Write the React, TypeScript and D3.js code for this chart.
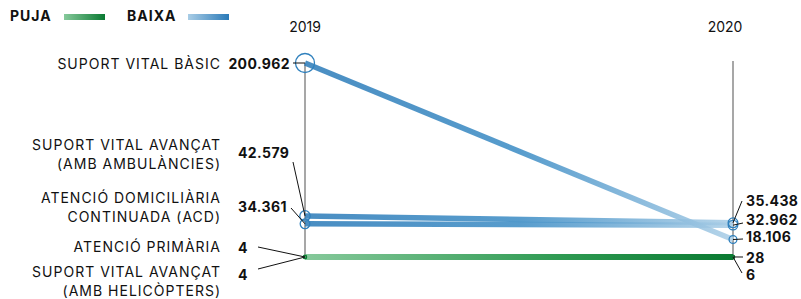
import React from 'react';
import * as d3 from 'd3';

// Dades
const years = ['2019', '2020'];
const categoryLines = [
  ['SUPORT VITAL BÀSIC'],
  ['SUPORT VITAL AVANÇAT', '(AMB AMBULÀNCIES)'],
  ['ATENCIÓ DOMICILIÀRIA', 'CONTINUADA (ACD)'],
  ['ATENCIÓ PRIMÀRIA'],
  ['SUPORT VITAL AVANÇAT', '(AMB HELICÒPTERS)'],
];
const values2019 = [200962, 42579, 34361, 4, 4];
const values2020 = [18106, 35438, 32962, 28, 6];
const legendItems = ['PUJA', 'BAIXA'];

// Posició de les etiquetes (y de la línia base), separades dels punts
const leftNameBaseline = [69, 150, 203, 252, 277];
const leftValueBaseline = [69, 158, 212, 253, 280];
const leftValueAnchor = [[293, 63], [293, 162], [291, 208], [258, 247], [258, 269]];
const rightValueBaseline = [242, 206, 225, 263, 280];
const rightValueAnchor = [[743, 239], [742, 201], [743, 223], [743, 257], [742, 273]];

const W = 801;
const H = 299;
const font = 'Inter, "Noto Sans", sans-serif';

const fmt = (v: number) => d3.format(',')(v).replace(/,/g, '.');

export default function App() {
  const x = d3.scalePoint<string>().domain(years).range([305, 733]);
  const maxV = d3.max([...values2019, ...values2020]) as number;
  const y = d3.scaleLinear().domain([0, maxV]).range([257, 63]);
  const r = d3.scaleSqrt().domain([0, maxV]).range([1.5, 9.5]);

  const x0 = x('2019') as number;
  const x1 = x('2020') as number;

  const blueDark = '#2a7ab8';
  const blueLight = '#a9cde6';
  const greenDark = '#0a7a32';
  const greenLight = '#86c99b';

  const rows = values2019.map((v, i) => ({
    v0: v,
    v1: values2020[i],
    up: values2020[i] > v,
    i,
  }));

  // primer les que baixen, després les que pugen
  const order = [...rows].sort((a, b) => b.v0 - a.v0);

  return (
    <svg
      width={W}
      height={H}
      style={{ position: 'absolute', left: 0, top: 0, background: '#fff' }}
      fontFamily={font}
    >
      <defs>
        <linearGradient id="gBaixa" gradientUnits="userSpaceOnUse" x1={x0} x2={x1} y1={0} y2={0}>
          <stop offset="0" stopColor={blueDark} />
          <stop offset="0.5" stopColor="#3a8bc4" />
          <stop offset="1" stopColor={blueLight} />
        </linearGradient>
        <linearGradient id="gPuja" gradientUnits="userSpaceOnUse" x1={x0} x2={x1} y1={0} y2={0}>
          <stop offset="0" stopColor={greenLight} />
          <stop offset="0.6" stopColor="#2e9a52" />
          <stop offset="1" stopColor={greenDark} />
        </linearGradient>
        <linearGradient id="lPuja" x1="0" x2="1" y1="0" y2="0">
          <stop offset="0" stopColor={greenLight} />
          <stop offset="1" stopColor={greenDark} />
        </linearGradient>
        <linearGradient id="lBaixa" x1="0" x2="1" y1="0" y2="0">
          <stop offset="0" stopColor={blueLight} />
          <stop offset="1" stopColor={blueDark} />
        </linearGradient>
      </defs>

      {/* Llegenda */}
      {legendItems.map((name, i) => (
        <g key={name} transform={`translate(${10 + i * 117},0)`}>
          <text x={0} y={21} fontSize={14} fontWeight={700} fill="#111" letterSpacing={1}>
            {name}
          </text>
          <rect
            x={i === 0 ? 54 : 61}
            y={14}
            width={41}
            height={6}
            fill={i === 0 ? 'url(#lPuja)' : 'url(#lBaixa)'}
          />
        </g>
      ))}

      {/* Anys i eixos */}
      {years.map((yr, i) => (
        <g key={yr}>
          <text
            x={i === 0 ? x0 : x1 - 8}
            y={32}
            fontSize={14}
            textAnchor="middle"
            fill="#111"
          >
            {yr}
          </text>
          <line
            x1={x(yr)}
            x2={x(yr)}
            y1={y(maxV) - (i === 0 ? 0 : 2)}
            y2={y(0) + (i === 0 ? 1 : 3)}
            stroke="#8a8a8a"
            strokeWidth={1.5}
          />
        </g>
      ))}

      {/* Línies */}
      {order.map((d) => (
        <line
          key={'l' + d.i}
          x1={x0}
          x2={x1}
          y1={y(d.v0)}
          y2={y(d.v1)}
          stroke={d.up ? 'url(#gPuja)' : 'url(#gBaixa)'}
          strokeWidth={d.up ? 6 : 5.5}
          strokeOpacity={d.up ? 1 : 0.85}
        />
      ))}

      {/* Cercles */}
      {rows.map((d) => (
        <g key={'c' + d.i}>
          <circle
            cx={x0}
            cy={y(d.v0)}
            r={r(d.v0)}
            fill="none"
            stroke={d.up ? greenDark : '#2f80bd'}
            strokeWidth={1.3}
          />
          <circle
            cx={x1}
            cy={y(d.v1)}
            r={r(d.v1)}
            fill="none"
            stroke={d.up ? greenDark : '#2f80bd'}
            strokeWidth={1.3}
          />
        </g>
      ))}

      {/* Etiquetes esquerra */}
      {categoryLines.map((lines, i) => (
        <g key={'n' + i}>
          <text
            x={221}
            y={leftNameBaseline[i]}
            fontSize={14}
            textAnchor="end"
            fill="#111"
            letterSpacing={1}
          >
            {lines.map((t, j) => (
              <tspan key={j} x={221} dy={j === 0 ? 0 : 19}>
                {t}
              </tspan>
            ))}
          </text>
          <text
            x={i === 0 ? 290 : 238}
            y={leftValueBaseline[i]}
            fontSize={14}
            fontWeight={700}
            textAnchor={i === 0 ? 'end' : 'start'}
            fill="#111"
            letterSpacing={0.4}
          >
            {fmt(values2019[i])}
          </text>
          <line
            x1={leftValueAnchor[i][0]}
            y1={leftValueAnchor[i][1]}
            x2={x0}
            y2={y(values2019[i])}
            stroke="#111"
            strokeWidth={1}
          />
        </g>
      ))}

      {/* Etiquetes dreta */}
      {values2020.map((v, i) => (
        <g key={'rv' + i}>
          <line
            x1={x1}
            y1={y(v)}
            x2={rightValueAnchor[i][0]}
            y2={rightValueAnchor[i][1]}
            stroke="#111"
            strokeWidth={1}
          />
          <text
            x={746}
            y={rightValueBaseline[i]}
            fontSize={14}
            fontWeight={700}
            fill="#111"
            letterSpacing={0.4}
          >
            {fmt(v)}
          </text>
        </g>
      ))}
    </svg>
  );
}
